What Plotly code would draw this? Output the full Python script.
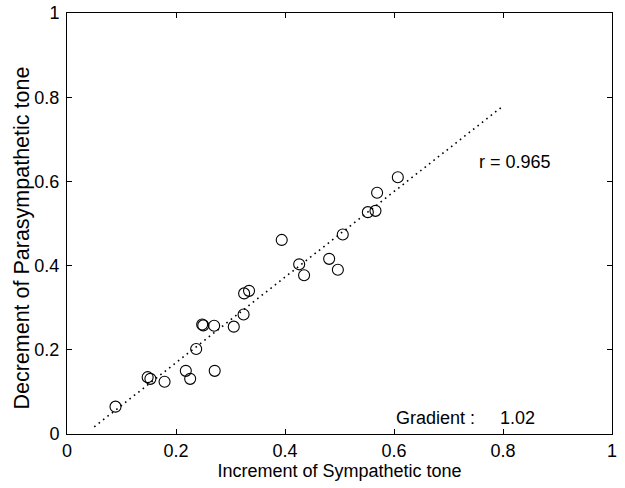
import plotly.graph_objects as go

# Data
sympathetic = [0.089, 0.148, 0.153, 0.179, 0.218, 0.226, 0.237, 0.248, 0.250,
               0.270, 0.271, 0.306, 0.324, 0.325, 0.334, 0.394, 0.426, 0.435,
               0.481, 0.497, 0.506, 0.552, 0.566, 0.569, 0.607]
parasympathetic = [0.065, 0.135, 0.131, 0.124, 0.150, 0.131, 0.202, 0.260, 0.258,
                   0.257, 0.150, 0.255, 0.284, 0.334, 0.340, 0.461, 0.403, 0.377,
                   0.416, 0.390, 0.474, 0.527, 0.530, 0.573, 0.610]
fit_x = [0.05, 0.80]
fit_y = [0.017, 0.779]
tick_vals = [0, 0.2, 0.4, 0.6, 0.8, 1]
tick_text = ["0", "0.2", "0.4", "0.6", "0.8", "1"]

font_family = "Liberation Sans, Arial, sans-serif"

fig = go.Figure()
fig.add_trace(go.Scatter(
    x=fit_x, y=fit_y, mode="lines",
    line=dict(color="black", width=1.6, dash="1.6px,4px"),
    showlegend=False, hoverinfo="skip"))
fig.add_trace(go.Scatter(
    x=sympathetic, y=parasympathetic, mode="markers",
    marker=dict(symbol="circle-open", size=11, color="black", line=dict(width=1.1)),
    showlegend=False))

axis_common = dict(
    range=[0, 1], tickvals=tick_vals, ticktext=tick_text, automargin=False,
    showgrid=False, zeroline=False, showline=True, linecolor="black", linewidth=1,
    mirror="ticks", ticks="inside", ticklen=5, tickcolor="black",
    tickfont=dict(size=18, color="black", family=font_family),
)

fig.update_xaxes(**axis_common,
                 title=dict(text="Increment of Sympathetic tone", standoff=2,
                            font=dict(size=18, color="black", family=font_family)))
fig.update_yaxes(**axis_common, ticklabelstandoff=3)

# y-axis title (placed as rotated text, slightly below the plot centre as in the reference)
fig.add_annotation(x=-0.083, y=0.466, xref="paper", yref="paper",
                   text="Decrement of Parasympathetic tone", textangle=-90,
                   showarrow=False, xanchor="center", yanchor="middle",
                   font=dict(size=21.5, color="black", family=font_family))

fig.add_annotation(x=0.752, y=0.646, xref="x", yref="y", text="r = 0.965",
                   showarrow=False, xanchor="left", yanchor="middle",
                   font=dict(size=18, color="black", family=font_family))
fig.add_annotation(x=0.6, y=0.038, xref="x", yref="y",
                   text="Gradient :&nbsp;&nbsp;&nbsp;&nbsp;&nbsp;1.02",
                   showarrow=False, xanchor="left", yanchor="middle",
                   font=dict(size=18, color="black", family=font_family))

fig.update_layout(
    template="none",
    width=625, height=488,
    margin=dict(l=67, r=13, t=13, b=54, pad=0),
    paper_bgcolor="white", plot_bgcolor="white",
    font=dict(family=font_family, color="black"),
)

fig.write_html("out.html", config={"displayModeBar": False},
               post_script="document.body.style.margin='0';")
